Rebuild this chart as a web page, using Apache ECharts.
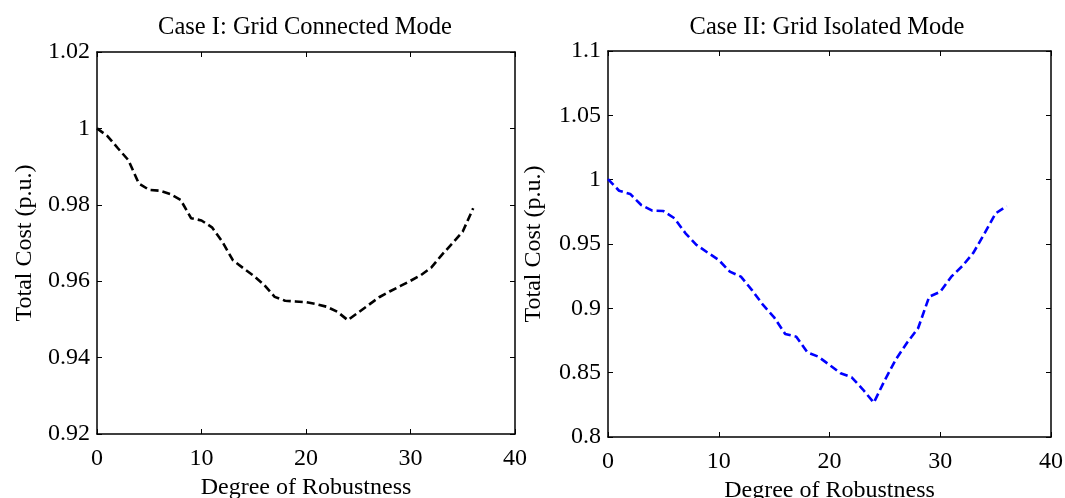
<!DOCTYPE html>
<html>
<head>
<meta charset="utf-8">
<script src="https://cdn.jsdelivr.net/npm/echarts@6/dist/echarts.min.js"></script>
<style>
  html, body { margin: 0; padding: 0; background: #fff; }
  #chart { width: 1065px; height: 498px; }
</style>
</head>
<body>
<div id="chart"></div>
<script>
// Degree of robustness (x) shared by both cases
const robustness = [0,1,2,3,4,5,6,7,8,9,10,11,12,13,14,15,16,17,18,19,20,21,22,23,24,25,26,27,28,29,30,31,32,33,34,35,36];

// Case I: grid connected mode, total cost (p.u.)
const costConnected = [1.0000,0.9980,0.9948,0.9917,0.9856,0.9839,0.9837,0.9828,0.9813,0.9765,0.9759,0.9741,0.9703,0.9655,0.9634,0.9614,0.9590,0.9559,0.9549,0.9547,0.9545,0.9540,0.9533,0.9520,0.9498,0.9518,0.9538,0.9558,0.9573,0.9587,0.9601,0.9616,0.9636,0.9669,0.9699,0.9730,0.9791];

// Case II: grid isolated mode, total cost (p.u.)
const costIsolated = [1.0005,0.9914,0.9889,0.9803,0.9759,0.9756,0.9700,0.9583,0.9492,0.9433,0.9376,0.9285,0.9246,0.9142,0.9026,0.8930,0.8801,0.8780,0.8658,0.8624,0.8560,0.8495,0.8464,0.8371,0.8267,0.8443,0.8604,0.8733,0.8845,0.9090,0.9129,0.9246,0.9329,0.9433,0.9583,0.9738,0.9795];

// Axis ticks
const xTicks = { min: 0, max: 40, interval: 10 };
const yTicksConnected = { min: 0.92, max: 1.02, interval: 0.02 };
const yTicksIsolated = { min: 0.8, max: 1.1, interval: 0.05 };

const titles = ['Case I: Grid Connected Mode', 'Case II: Grid Isolated Mode'];
const xName = 'Degree of Robustness';
const yName = 'Total Cost (p.u.)';

const FONT = '"Liberation Serif", "Times New Roman", serif';
const FS = 24;
const lineCol = '#000';

const pairs = (ys) => robustness.map((x, i) => [x, ys[i]]);
const fmt = (v) => String(+(+v).toFixed(2));

function xAxes(gridIndex, labelMargin, nameGap) {
  const base = {
    gridIndex, type: 'value', min: xTicks.min, max: xTicks.max, interval: xTicks.interval,
    splitLine: { show: false },
    axisLine: { show: true, onZero: false, lineStyle: { color: lineCol, width: 1.5 } },
    axisTick: { show: true, inside: true, length: 5, lineStyle: { color: lineCol, width: 1 } }
  };
  return [
    Object.assign({}, base, {
      position: 'bottom',
      axisLabel: { fontFamily: FONT, fontSize: FS, color: '#000', margin: labelMargin },
      name: xName, nameLocation: 'middle', nameGap: nameGap,
      nameTextStyle: { fontFamily: FONT, fontSize: FS, color: '#000' }
    }),
    Object.assign({}, base, { position: 'top', axisLabel: { show: false } })
  ];
}

function yAxes(gridIndex, t, gap) {
  const base = {
    gridIndex, type: 'value', min: t.min, max: t.max, interval: t.interval,
    splitLine: { show: false },
    axisLine: { show: true, onZero: false, lineStyle: { color: lineCol, width: 1.5 } },
    axisTick: { show: true, inside: true, length: 5, lineStyle: { color: lineCol, width: 1 } }
  };
  return [
    Object.assign({}, base, {
      position: 'left',
      axisLabel: { fontFamily: FONT, fontSize: FS, color: '#000', margin: 7, formatter: fmt },
      name: yName, nameLocation: 'middle', nameGap: gap,
      nameTextStyle: { fontFamily: FONT, fontSize: FS, color: '#000' }
    }),
    Object.assign({}, base, { position: 'right', axisLabel: { show: false } })
  ];
}

const chart = echarts.init(document.getElementById('chart'), null, { renderer: 'canvas' });
chart.setOption({
  backgroundColor: '#fff',
  animation: false,
  title: [
    { text: titles[0], left: 300, top: 10, textAlign: 'center',
      textStyle: { fontFamily: FONT, fontSize: 24.5, fontWeight: 'normal', color: '#000' } },
    { text: titles[1], left: 822, top: 10, textAlign: 'center',
      textStyle: { fontFamily: FONT, fontSize: 24.5, fontWeight: 'normal', color: '#000' } }
  ],
  grid: [
    { left: 97, top: 52, width: 418, height: 382, outerBoundsMode: 'none', containLabel: false },
    { left: 608, top: 51, width: 443, height: 386, outerBoundsMode: 'none', containLabel: false }
  ],
  xAxis: [].concat(xAxes(0, 13, 37), xAxes(1, 13, 37)),
  yAxis: [].concat(yAxes(0, yTicksConnected, 60), yAxes(1, yTicksIsolated, 62)),
  series: [
    {
      type: 'line', xAxisIndex: 0, yAxisIndex: 0, data: pairs(costConnected),
      symbol: 'none', smooth: false,
      lineStyle: { color: '#000', width: 2.6, type: [8, 4] }
    },
    {
      type: 'line', xAxisIndex: 2, yAxisIndex: 2, data: pairs(costIsolated),
      symbol: 'none', smooth: false,
      lineStyle: { color: '#0000ff', width: 2.6, type: [8, 4] }
    }
  ]
});
</script>
</body>
</html>
